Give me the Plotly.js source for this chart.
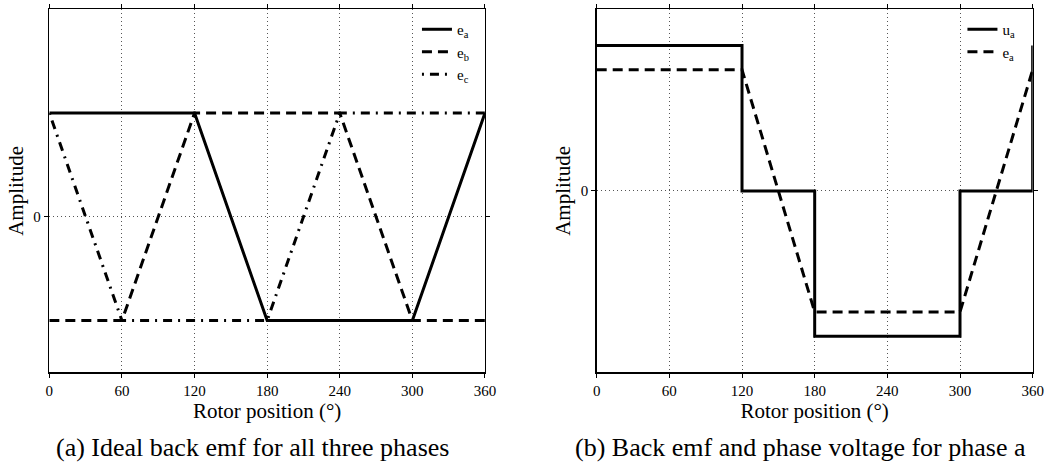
<!DOCTYPE html>
<html>
<head>
<meta charset="utf-8">
<script src="https://cdn.plot.ly/plotly-3.0.1.min.js"></script>
<style>html,body{margin:0;padding:0;background:#fff;}#chart{width:1045px;height:465px;}</style>
</head>
<body>
<div id="chart"></div>
<script>
// Rotor position (degrees) breakpoints
const theta = [0, 60, 120, 180, 240, 300, 360];
// Ideal back emf (normalised) for phases a, b, c
const ea = [1, 1, 1, -1, -1, -1, 1];
const eb = [-1, -1, 1, 1, 1, -1, -1];
const ec = [1, -1, -1, -1, 1, 1, 1];
// Phase voltage for phase a (six-step), step breakpoints
const uaTheta = [0, 120, 120, 180, 180, 300, 300, 360, 360];
const ua = [1.2, 1.2, 0, 0, -1.2, -1.2, 0, 0, 1.2];
const xTicks = [0, 60, 120, 180, 240, 300, 360];
const yTicks = [0];
const captions = ['(a) Ideal back emf for all three phases', '(b) Back emf and phase voltage for phase a'];

const FONT = 'Liberation Serif';
const lw = 3;

const traces = [
  {x: theta, y: ea, xaxis: 'x', yaxis: 'y', mode: 'lines', name: 'e<sub>a</sub>', legend: 'legend',
   line: {color: '#000', width: lw, dash: 'solid'}},
  {x: theta, y: eb, xaxis: 'x', yaxis: 'y', mode: 'lines', name: 'e<sub>b</sub>', legend: 'legend',
   line: {color: '#000', width: lw, dash: '10px,6px'}},
  {x: theta, y: ec, xaxis: 'x', yaxis: 'y', mode: 'lines', name: 'e<sub>c</sub>', legend: 'legend',
   line: {color: '#000', width: lw, dash: '2px,6px,9px,6px'}},
  {x: uaTheta, y: ua, xaxis: 'x2', yaxis: 'y2', mode: 'lines', name: 'u<sub>a</sub>', legend: 'legend2',
   line: {color: '#000', width: lw, dash: 'solid'}},
  {x: theta, y: ea, xaxis: 'x2', yaxis: 'y2', mode: 'lines', name: 'e<sub>a</sub>', legend: 'legend2',
   line: {color: '#000', width: lw, dash: '10px,6px'}}
];

function xax(domain, anchor) {
  return {
    domain: domain, anchor: anchor, range: [0, 360], tickvals: xTicks, ticktext: xTicks.map(String),
    showline: true, mirror: 'ticks', linecolor: '#000', linewidth: 1.5,
    ticks: 'outside', ticklen: 4, tickwidth: 1, tickcolor: '#000',
    showgrid: true, gridcolor: '#555', gridwidth: 1, griddash: '1px,3px', zeroline: false,
    tickfont: {family: FONT, size: 15, color: '#000'},
    title: {text: 'Rotor position (°)', font: {family: FONT, size: 21, color: '#000'}, standoff: 2}
  };
}
function yax(anchor) {
  return {
    domain: [0.199, 0.98], anchor: anchor, range: [-1.5, 2.0], tickvals: yTicks, ticktext: ['0'],
    showline: true, mirror: 'ticks', linecolor: '#000', linewidth: 1.5,
    ticks: 'outside', ticklen: 4, tickwidth: 1, tickcolor: '#000',
    showgrid: true, gridcolor: '#555', gridwidth: 1, griddash: '1px,3px', zeroline: false,
    tickfont: {family: FONT, size: 15, color: '#000'},
    title: {text: 'Amplitude', font: {family: FONT, size: 21, color: '#000'}, standoff: 4}
  };
}

const y2 = yax('x2');
y2.range = [-1.5, 1.5];

const layout = {
  width: 1045, height: 465,
  margin: {l: 0, r: 0, t: 0, b: 0},
  paper_bgcolor: '#fff', plot_bgcolor: '#fff',
  font: {family: FONT, color: '#000'},
  showlegend: true,
  xaxis: xax([0.0472, 0.4641], 'y'),
  yaxis: yax('x'),
  xaxis2: xax([0.571, 0.9882], 'y2'),
  yaxis2: y2,
  legend: {x: 0.399, y: 0.972, xanchor: 'left', yanchor: 'top', bgcolor: 'rgba(0,0,0,0)',
           font: {family: FONT, size: 15, color: '#000'}, tracegroupgap: 0, itemwidth: 30},
  legend2: {x: 0.921, y: 0.972, xanchor: 'left', yanchor: 'top', bgcolor: 'rgba(0,0,0,0)',
           font: {family: FONT, size: 15, color: '#000'}, tracegroupgap: 0, itemwidth: 30},
  annotations: [
    {text: captions[0], xref: 'paper', yref: 'paper', x: 0.242, y: 1 - 447/465, xanchor: 'center', yanchor: 'middle',
     showarrow: false, font: {family: FONT, size: 26, color: '#000'}},
    {text: captions[1], xref: 'paper', yref: 'paper', x: 0.7665, y: 1 - 447/465, xanchor: 'center', yanchor: 'middle',
     showarrow: false, font: {family: FONT, size: 26, color: '#000'}}
  ]
};

Plotly.newPlot('chart', traces, layout, {staticPlot: true, displayModeBar: false});
</script>
</body>
</html>
